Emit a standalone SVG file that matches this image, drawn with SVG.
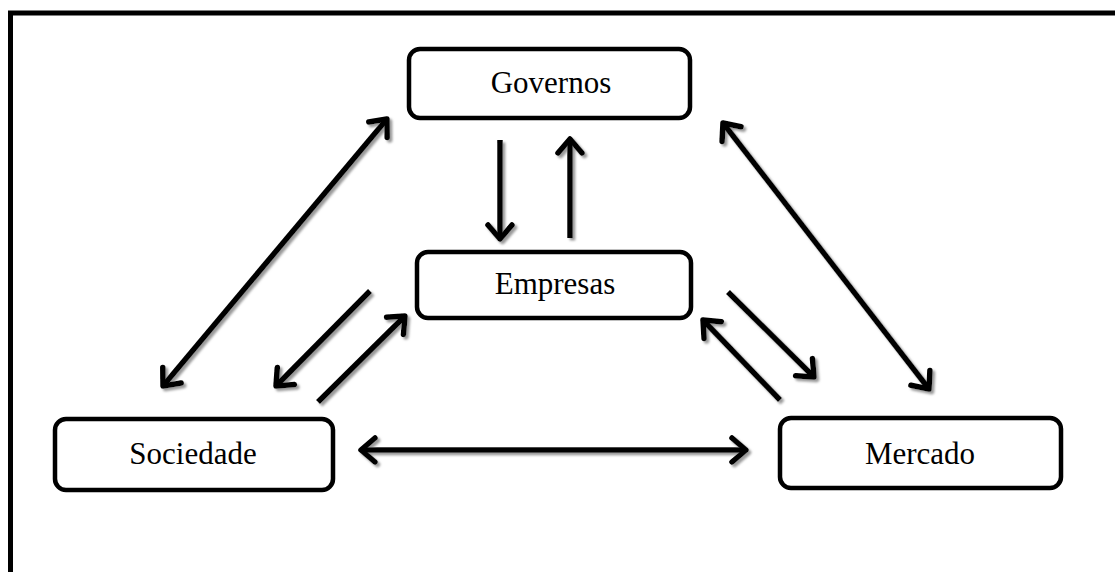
<svg xmlns="http://www.w3.org/2000/svg" width="1115" height="572" viewBox="0 0 1115 572">
  <style>
    .box { fill: #ffffff; stroke: #000000; stroke-width: 4.5; }
    .label { font-family: "Liberation Serif", "Times New Roman", serif; font-size: 31px; fill: #000000; text-anchor: middle; }
    .conn { stroke: #000000; stroke-width: 5.5; fill: none; }
    .one { marker-end: url(#head); }
    .two { marker-start: url(#head); marker-end: url(#head); }
  </style>
  <defs>
    <marker id="head" markerUnits="userSpaceOnUse" viewBox="-22 -16 26 32" markerWidth="26" markerHeight="32" refX="0" refY="0" orient="auto-start-reverse" overflow="visible">
      <path d="M -14 -12 L 0 0 L -14 12" fill="none" stroke="#000000" stroke-width="5.5" stroke-linecap="round" stroke-linejoin="round"/>
    </marker>
    <filter id="shade" x="-10%" y="-10%" width="120%" height="120%">
      <feDropShadow dx="2.5" dy="2.5" stdDeviation="0.8" flood-color="#999999" flood-opacity="1"/>
    </filter>
  </defs>

  <rect width="1115" height="572" fill="#ffffff"/>

  <!-- outer frame: only top and left edges fall inside the page -->
  <path d="M 10.5 572 L 10.5 13 L 1115 13" fill="none" stroke="#000000" stroke-width="5"/>

  <g id="connectors" filter="url(#shade)">
    <!-- Sociedade <-> Governos -->
    <line class="conn two" x1="163" y1="386" x2="387" y2="119"/>
    <!-- Empresas -> Sociedade -->
    <line class="conn one" x1="370" y1="291" x2="276" y2="386"/>
    <!-- Sociedade -> Empresas -->
    <line class="conn one" x1="318" y1="402" x2="405" y2="316"/>
    <!-- Governos -> Empresas -->
    <line class="conn one" x1="500" y1="140" x2="500" y2="239"/>
    <!-- Empresas -> Governos -->
    <line class="conn one" x1="570" y1="238" x2="570" y2="139"/>
    <!-- Governos <-> Mercado -->
    <line class="conn two" x1="723" y1="123" x2="929" y2="389"/>
    <!-- Empresas -> Mercado -->
    <line class="conn one" x1="728" y1="292" x2="814" y2="377"/>
    <!-- Mercado -> Empresas -->
    <line class="conn one" x1="780" y1="400" x2="703" y2="320"/>
    <!-- Sociedade <-> Mercado -->
    <line class="conn two" x1="361" y1="450" x2="746" y2="450"/>
  </g>

  <g id="governos">
    <rect class="box" x="409" y="49" width="281" height="69" rx="11"/>
    <text class="label" x="551" y="93">Governos</text>
  </g>

  <g id="empresas">
    <rect class="box" x="417" y="252" width="274" height="66" rx="11"/>
    <text class="label" x="555" y="294">Empresas</text>
  </g>

  <g id="sociedade">
    <rect class="box" x="55" y="419" width="278" height="71" rx="11"/>
    <text class="label" x="193" y="464">Sociedade</text>
  </g>

  <g id="mercado">
    <rect class="box" x="780" y="418" width="281" height="70" rx="11"/>
    <text class="label" x="920" y="464">Mercado</text>
  </g>
</svg>
